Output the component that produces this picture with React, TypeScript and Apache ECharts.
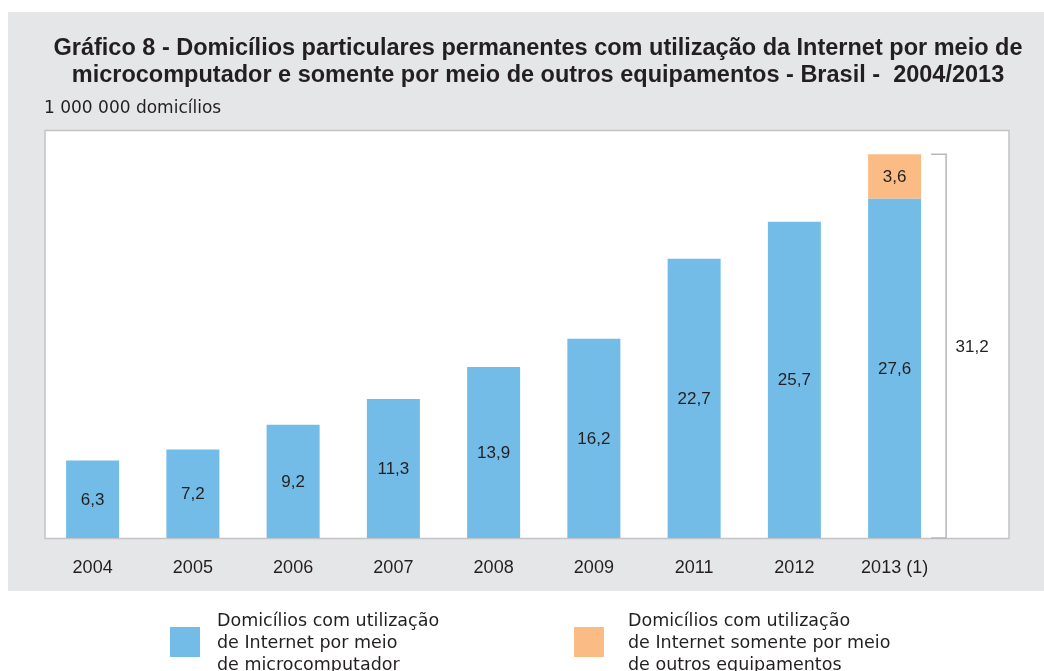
import React, { useEffect, useRef } from "react";
import * as echarts from "echarts";

const years = ["2004", "2005", "2006", "2007", "2008", "2009", "2011", "2012", "2013 (1)"];
const microValues = [6.3, 7.2, 9.2, 11.3, 13.9, 16.2, 22.7, 25.7, 27.6];
const otherValues = [null, null, null, null, null, null, null, null, 3.6];
const totalIndex = 8;
const totalValue = 31.2;

const seriesNames = [
  "Domicílios com utilização\nde Internet por meio\nde microcomputador",
  "Domicílios com utilização\nde Internet somente por meio\nde outros equipamentos",
];
const titleText =
  "Gráfico 8 - Domicílios particulares permanentes com utilização da Internet por meio de\nmicrocomputador e somente por meio de outros equipamentos - Brasil -  2004/2013";
const unitText = "1 000 000 domicílios";

const FONT = "'Liberation Sans', Arial, Helvetica, sans-serif";
const WIDE_FONT = "'DejaVu Sans', Verdana, sans-serif";
const BLUE = "#73bce8";
const ORANGE = "#fbbb84";
const TEXT = "#231f20";

const fmt = (v: number) => String(v).replace(".", ",");

export default function App() {
  const ref = useRef<HTMLDivElement>(null);
  useEffect(() => {
    if (!ref.current) return;
    const chart = echarts.init(ref.current, null, { renderer: "svg" });
    chart.setOption({
      animation: false,
      textStyle: { fontFamily: FONT },
      graphic: [
        { type: "rect", z: -10, silent: true, shape: { x: 8, y: 12, width: 1040, height: 579 }, style: { fill: "#e5e6e8" } },
        { type: "rect", z: -9, silent: true, shape: { x: 45, y: 130.5, width: 964, height: 408 }, style: { fill: "#ffffff", stroke: "#c4c4c6", lineWidth: 1.5 } },
        {
          type: "text", x: 538, y: 60.5, z: 5,
          style: { text: titleText, align: "center", verticalAlign: "middle", fontSize: 23.5, fontWeight: "bold", lineHeight: 26.5, fill: TEXT, fontFamily: FONT },
        },
        {
          type: "text", x: 44, y: 107, z: 5,
          style: { text: unitText, align: "left", verticalAlign: "middle", fontSize: 17, fill: TEXT, fontFamily: WIDE_FONT },
        },
      ],
      legend: [
        {
          data: [seriesNames[0]], left: 165, top: 604, itemWidth: 30, itemHeight: 30, icon: "rect",
          selectedMode: false,
          textStyle: { fontSize: 17.5, lineHeight: 22, color: TEXT, fontFamily: WIDE_FONT, padding: [0, 0, 0, 12] },
        },
        {
          data: [seriesNames[1]], left: 569, top: 604, itemWidth: 30, itemHeight: 30, icon: "rect",
          selectedMode: false,
          textStyle: { fontSize: 17.5, lineHeight: 22, color: TEXT, fontFamily: WIDE_FONT, padding: [0, 0, 0, 19] },
        },
      ],
      grid: { left: 42.5, right: 99.25, top: 132, bottom: 133, containLabel: false },
      xAxis: {
        type: "category",
        data: years,
        axisLine: { show: false },
        axisTick: { show: false },
        axisLabel: { margin: 20, fontSize: 18, color: TEXT, fontFamily: FONT },
      },
      yAxis: { type: "value", min: 0, max: 33, show: false, splitLine: { show: false } },
      series: [
        {
          name: seriesNames[0], type: "bar", stack: "total", barWidth: 53, data: microValues,
          itemStyle: { color: BLUE },
          label: { show: true, position: "inside", fontSize: 17, color: TEXT, fontFamily: FONT, formatter: (p: any) => fmt(p.value) },
        },
        {
          name: seriesNames[1], type: "bar", stack: "total", barWidth: 53, data: otherValues,
          itemStyle: { color: ORANGE },
          label: { show: true, position: "inside", fontSize: 17, color: TEXT, fontFamily: FONT, formatter: (p: any) => fmt(p.value) },
        },
        {
          name: "total", type: "custom", data: [[totalIndex, totalValue]], z: 3,
          renderItem: (params: any, api: any) => {
            const top = api.coord([api.value(0), api.value(1)]);
            const bot = api.coord([api.value(0), 0]);
            const x0 = top[0] + 36.5;
            const x1 = top[0] + 51.5;
            return {
              type: "group",
              children: [
                {
                  type: "polyline",
                  shape: { points: [[x0, top[1]], [x1, top[1]], [x1, bot[1]], [x0, bot[1]]] },
                  style: { stroke: "#b8b8ba", lineWidth: 1.5, fill: "none" },
                },
                {
                  type: "text",
                  style: {
                    text: fmt(api.value(1)), x: x1 + 26, y: (top[1] + bot[1]) / 2,
                    align: "center", verticalAlign: "middle", fontSize: 17, fill: TEXT, fontFamily: FONT,
                  },
                },
              ],
            };
          },
        },
      ],
    });
    return () => chart.dispose();
  }, []);
  return <div ref={ref} style={{ position: "fixed", left: 0, top: 0, width: 1044, height: 671 }} />;
}
